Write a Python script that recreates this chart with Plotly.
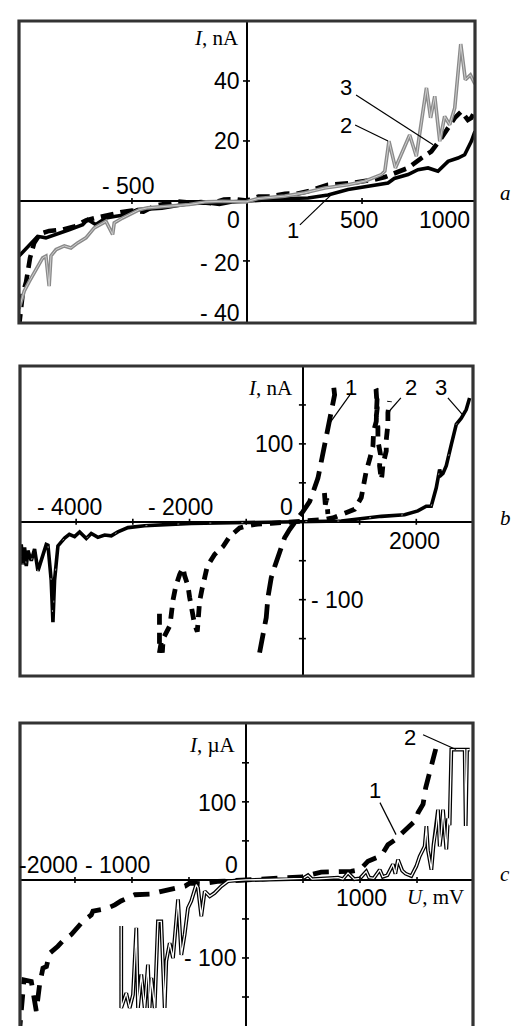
import plotly.graph_objects as go

W, H = 532, 1026

# ---------------- Panel a (U in mV, I in nA) ----------------
a1_u = [-991, -946, -910, -874, -830, -773, -714, -693, -657, -613, -570, -526, -475, -430, -370,
        -300, -240, -170, -120, -60, 0, 60, 120, 180, 265, 352, 439, 555, 613, 640, 700, 743,
        787, 830, 874, 917, 946, 975, 991]
a1_i = [-18.4, -14.6, -11.8, -12.3, -11.2, -9.6, -7.9, -6.2, -7.9, -5.7, -5.1, -4.6, -2.9, -2.8,
        -2.4, -1.5, -0.8, -0.7, -1.2, -0.3, 0, 0.2, 0.5, 0.8, 1.0, 2.0, 3.8, 5.4, 6.0, 7.5, 8.8,
        10.4, 11.0, 9.9, 13.2, 14.3, 15.4, 19.9, 23.2]

a2_u = [-991, -983, -968, -946, -925, -910, -888, -874, -860, -852, -830, -794, -765, -736, -700,
        -664, -635, -613, -584, -577, -541, -497, -468, -432, -352, -251, -178, -106, -4, 48, 164,
        251, 338, 439, 512, 584, 599, 617, 645, 671, 707, 736, 780, 798, 816, 838, 859, 881, 903,
        929, 949, 971, 991]
a2_i = [-36, -34, -30, -26.8, -24, -22.3, -19, -18.4, -28.4, -18.3, -16.2, -15, -15.7, -14, -12.3,
        -9, -7.9, -6.8, -11.2, -7.3, -5.7, -4, -2.9, -2.3, -1.8, -1.2, -0.3, -0.1, -0.3, 0.8, 1.6,
        2.7, 4.3, 5.4, 6.6, 8.8, 9.9, 19.9, 11, 15.4, 22, 14.9, 37.7, 27.7, 34.9, 19.9, 28.2, 25.4,
        31, 52.3, 40.4, 42, 39]

a3_u = [-991, -975, -960, -943, -925, -900, -860, -800, -750, -700, -650, -600, -550, -500, -450,
        -400, -350, -300, -250, -200, -150, -100, -50, 0, 50, 100, 165, 222, 265, 352, 453, 555,
        600, 664, 700, 758, 801, 845, 874, 903, 932, 960, 975, 991]
a3_i = [-42, -31, -27, -19, -14, -11, -10, -9.5, -8.5, -6.5, -5.5, -4.5, -3.8, -3.2, -3.6, -1.6,
        -1.0, -0.2, -0.5, -0.4, -0.8, 0.5, 0.6, 0.1, 1.5, 1.5, 2.4, 2.5, 3.2, 5.4, 6.0, 7.1, 8.0,
        9.9, 11.0, 14.3, 16.5, 21.0, 24.3, 27.7, 29.9, 27.0, 27.7, 30]

# ---------------- Panel b (U in mV, I in nA) ----------------
b1_u = [-764, -700, -647, -617, -559, -500, -441, -380, -323, -235, -150, -88, 0, 118, 160, 265,
        340, 411, 440, 470, 515, 559, 545, None, 380, 395, 420, 440]
b1_i = [-168, -145, -123, -97, -72, -58, -46, -32, -20.5, -10, 0, 5, 13, 26, 34, 56, 83, 110, 118,
        127, 146, 163, 172, None, 37, 22, 30, 10]

b2_u = [-2530, -2530, -2500, -2480, -2465, -2345, -2290, -2240, -2175, -2116, -2087, -2028, -1998,
        -1940, -1910, -1863, -1852, -1822, -1781, -1734, -1686, -1558, -1411, -1293, -1117, -970,
        -800, -560, -300, 0, 200, 400, 529, 758, 911, 1029, 1058, 1117, 1176, 1235, 1247, 1294,
        1300, 1315, 1290, 1311, 1295, 1323, 1323, 1370, 1352, 1382, 1395, 1411, 1470, 1470, 1499,
        1499, 1529]
b2_i = [-118, -168, -155, -168, -150, -133, -100, -82, -68, -59, -69, -82, -97, -121, -132, -141,
        -121, -102, -87, -72, -57, -42, -32, -19, -8, -5, -3, -2, -1, 0, 1, 3, 5, 11.5, 16, 31, 44,
        65, 80, 97, 116, 129, 145, 168, 170, 146, 136, 121, 104, 86, 72, 54, 60, 73, 91, 105, 125,
        140, 155]

b3_u = [-4990, -4968, -4938, -4909, -4879, -4850, -4791, -4733, -4674, -4615, -4527, -4497, -4440,
        -4409, -4380, -4321, -4203, -4120, -4027, -3938, -3821, -3733, -3616, -3497, -3380, -3263,
        -3086, -2792, -2557, -1970, -1000, 0, 676, 1382, 1794, 2028, 2175, 2263, 2352, 2411, 2440,
        2470, 2529, 2617, 2705, 2793, 2881, 2940]
b3_i = [-45, -29, -55, -33, -57, -37, -50, -35, -63, -50, -29, -30, -75, -129, -75, -31, -21, -16,
        -19, -13, -21.5, -15, -20, -17, -18, -13, -7.5, -5, -4, -2, -1, 0, 1, 7, 9, 14, 20, 20,
        43.6, 67, 60, 62, 72, 99, 125, 133, 144, 159]

# ---------------- Panel c (U in mV, I in uA) ----------------
c1_u = [-1990, -1971, -1947, -1883, -1839, -1810, -1781, -1750, -1722, -1650, -1605, -1532, -1480,
        -1430, -1357, -1342, -1270, -1211, -1150, -1096, -974, -830, -750, -684, -535, -491, -395,
        -250, 0, 300, 500, 660, 921, 1000, 1070, 1187, 1245, 1304, 1392, 1494, 1509, 1553, 1576,
        1596, 1640, 1670]
c1_i = [-200, -164, -128, -130, -168, -134, -113, -111, -94, -85, -78, -70, -62, -53, -45, -40, -38,
        -36, -32, -27, -19, -18, -15, -13, -8, -4, -5, -2, 0, 2, 4, 10, 11, 13, 24, 31, 45, 51, 63,
        77, 86, 97, 118, 129, 156, 171]

c2_u = [-1094, -1094, -1050, -1020, -991, -962, -947, -918, -889, -860, -845, -830, -801, -772,
        -743, -713, -699, -669, -640, -596, -567, -538, -509, -480, -436, -421, -392, -362, -318,
        -275, -216, -158, -99, -41, 0, 200, 400, 500, 544, 580, 700, 807, 850, 895, 950, 1000, 1055,
        1080, 1120, 1173, 1200, 1240, 1289, 1310, 1333, 1370, 1400, 1450, 1494, 1523, 1567, 1582,
        1596, 1626, 1645, 1670, 1684, 1699, 1713, 1728, 1757, 1772, 1786, 1801, 1918, 1927, 1939,
        1962]
c2_i = [-59, -164, -145, -164, -147, -61.5, -164, -121, -164, -108.5, -164, -125.6, -164, -53, -53,
        -164, -104, -81, -100, -25, -96, -70, -36, -27, -6, -10, -46.5, -14.5, -21, -16.7, -8, -1.7,
        -1, -0.5, 0, 0.5, 1, 2, 6, 1, 2, 3, 1, 9, 1, 2, 11, 3, 2, 13, 4, 6, 20, 8, 26, 12, 8, 5,
        17.5, 30, 43, 69, 38, 13, 45, 69, 90, 43, 60, 90, 39, 79, 70, 167, 167, 69, 167, 167]

# ---------------- Ticks and labels ----------------
a_xticks = [-500, 500]
a_yticks = [-20, 20, 40]
b_xticks = [-4000, -3000, -2000, -1000, 1000, 2000]
b_yticks = [-150, -100, -50, 50, 100, 150]
c_xticks = [-1500, -1000, -500, 500, 1000, 1500]
c_yticks = [-150, -100, -50, 50, 100, 150]

SANS = "Liberation Sans, Arial, sans-serif"
SERIF = "Liberation Serif, Times New Roman, serif"
TICKFS = 23

fig = go.Figure()

panels = [
    dict(k="", dx=[11, 467], dy=[13, 315], xr=[-991, 991], yr=[-40.7, 60]),
    dict(k="2", dx=[12, 465], dy=[358, 668], xr=[-4990, 3000], yr=[-198, 200]),
    dict(k="3", dx=[12, 465], dy=[715, 1026], xr=[-1982, 1991], yr=[-197.4, 201]),
]

layout = dict(width=W, height=H, margin=dict(l=0, r=0, t=0, b=0), paper_bgcolor="white",
              plot_bgcolor="white", showlegend=False)
shapes = []
annotations = []

for p in panels:
    k = p["k"]
    layout["xaxis" + k] = dict(domain=[p["dx"][0] / W, p["dx"][1] / W], range=p["xr"],
                               anchor="y" + k, showgrid=False, showticklabels=False, ticks="",
                               zeroline=True, zerolinecolor="black", zerolinewidth=1.6,
                               showline=False, fixedrange=True)
    layout["yaxis" + k] = dict(domain=[1 - p["dy"][1] / H, 1 - p["dy"][0] / H], range=p["yr"],
                               anchor="x" + k, showgrid=False, showticklabels=False, ticks="",
                               zeroline=True, zerolinecolor="black", zerolinewidth=1.6,
                               showline=False, fixedrange=True)
    y0 = -0.05 if k == "3" else 0
    shapes.append(dict(type="rect", xref="x" + k + " domain", yref="y" + k + " domain",
                       x0=0, x1=1, y0=y0, y1=1, line=dict(color="#333333", width=3.2),
                       layer="above"))


def add(u, i, k, color="black", width=3.5, dash="solid"):
    fig.add_trace(go.Scatter(x=u, y=i, mode="lines", xaxis="x" + k, yaxis="y" + k,
                             line=dict(color=color, width=width, dash=dash), hoverinfo="skip",
                             connectgaps=False))


# panel a
add(a1_u, a1_i, "", width=3.6)
add(a3_u, a3_i, "", width=4.6, dash="13px,7px")
add(a2_u, a2_i, "", color="#8a8a8a", width=3.6)
add(a2_u, a2_i, "", color="#d6d6d6", width=0.9)
# panel b
add(b3_u, b3_i, "2", width=3.6)
add(b3_u, b3_i, "2", color="#e8e8e8", width=0.6, dash="2px,30px")
add(b1_u, b1_i, "2", width=4.8, dash="20px,9px")
add(b2_u, b2_i, "2", width=4.8, dash="11px,8px")
# panel c
add(c1_u, c1_i, "3", width=4.8, dash="16px,10px")
add(c2_u, c2_i, "3", width=3.8)
add(c2_u, c2_i, "3", color="white", width=1.3)


def tick_shapes(vals, k, axis):
    for v in vals:
        if axis == "x":
            shapes.append(dict(type="line", xref="x" + k, yref="y" + k, ysizemode="pixel",
                               yanchor=0, x0=v, x1=v, y0=-3, y1=3,
                               line=dict(color="black", width=1.6)))
        else:
            shapes.append(dict(type="line", xref="x" + k, yref="y" + k, xsizemode="pixel",
                               xanchor=0, y0=v, y1=v, x0=-4, x1=3,
                               line=dict(color="black", width=1.6)))


tick_shapes(a_xticks, "", "x")
tick_shapes(a_yticks, "", "y")
tick_shapes(b_xticks, "2", "x")
tick_shapes(b_yticks, "2", "y")
tick_shapes(c_xticks, "3", "x")
tick_shapes(c_yticks, "3", "y")


def text(k, x, y, t, xa="center", ya="middle", xs=0, ys=0, fs=TICKFS, family=SANS):
    annotations.append(dict(xref="x" + k, yref="y" + k, x=x, y=y, text=t, showarrow=False,
                            xanchor=xa, yanchor=ya, xshift=xs, yshift=ys,
                            font=dict(family=family, size=fs, color="black")))


def leader(k, x0, y0, x1, y1):
    shapes.append(dict(type="line", xref="x" + k, yref="y" + k, x0=x0, y0=y0, x1=x1, y1=y1,
                       line=dict(color="black", width=1.2)))


# panel a labels
text("", 0, 54.3, "<i>I</i>, nA", xa="right", xs=-6, fs=21, family=SERIF)
text("", 0, 40, "40", xa="right", xs=-5)
text("", 0, 20, "20", xa="right", xs=-5)
text("", 0, -20.7, "- 20", xa="right", xs=-5)
text("", 0, -37.3, "- 40", xa="right", xs=-5)
text("", -517, 0, "- 500", ya="bottom", ys=0)
text("", 0, 0, "0", xa="right", ya="top", xs=-5, ys=-4)
text("", 487, 0, "500", ya="top", ys=-4)
text("", 857, 0, "1000", ya="top", ys=-4)
text("", 430, 37.7, "3", fs=22)
text("", 430, 25, "2", fs=22)
text("", 200, -9.7, "1", fs=22)
leader("", 474, 35.3, 809, 18.7)
leader("", 470, 25.3, 613, 20)
leader("", 230, -8, 361, 1.7)

# panel b labels
text("2", 0, 172, "<i>I</i>, nA", xa="right", xs=-8, fs=21, family=SERIF)
text("2", 0, 100, "100", xa="right", xs=-8)
text("2", 0, -100, "- 100", xa="left", xs=6)
text("2", -4109, 0, "- 4000", ya="bottom", ys=0)
text("2", -2152, 0, "- 2000", ya="bottom", ys=0)
text("2", 0, 0, "0", xa="right", ya="bottom", xs=-8, ys=0)
text("2", 1975, 0, "2000", ya="top", ys=-4)
text("2", 847, 172, "1", fs=22)
text("2", 1905, 172, "2", fs=22)
text("2", 2434, 172, "3", fs=22)
leader("2", 829, 163, 476, 127)
leader("2", 1728, 159, 1499, 140)
leader("2", 2557, 159, 2822, 137)

# panel c labels
text("3", 0, 173, "<i>I</i>, µA", xa="right", xs=-8, fs=21, family=SERIF)
text("3", 0, 98.7, "100", xa="right", xs=-8)
text("3", 0, -100, "- 100", xa="right", xs=-8)
text("3", -1728, 0, "-2000", ya="bottom", ys=0)
text("3", -1123, 0, "- 1000", ya="bottom", ys=0)
text("3", 0, 0, "0", xa="right", ya="bottom", xs=-6, ys=0)
text("3", 1009, 0, "1000", ya="top", ys=-3)
text("3", 1395, 0, "<i>U</i>, mV", xa="left", ya="top", ys=-3, fs=21, family=SERIF)
text("3", 1439, 182, "2", fs=22)
text("3", 1132, 115, "1", fs=22)
leader("3", 1553, 186, 1842, 167)
leader("3", 1175, 99, 1316, 58)

# panel letters
for lbl, ypx in [("a", 185), ("b", 510), ("c", 866)]:
    annotations.append(dict(xref="paper", yref="paper", x=497 / W, y=1 - ypx / H,
                            text="<i>%s</i>" % lbl, showarrow=False, xanchor="center",
                            yanchor="middle", font=dict(family=SERIF, size=21, color="black")))

layout["shapes"] = shapes
layout["annotations"] = annotations
fig.update_layout(**layout)
fig.write_html("out.html")
